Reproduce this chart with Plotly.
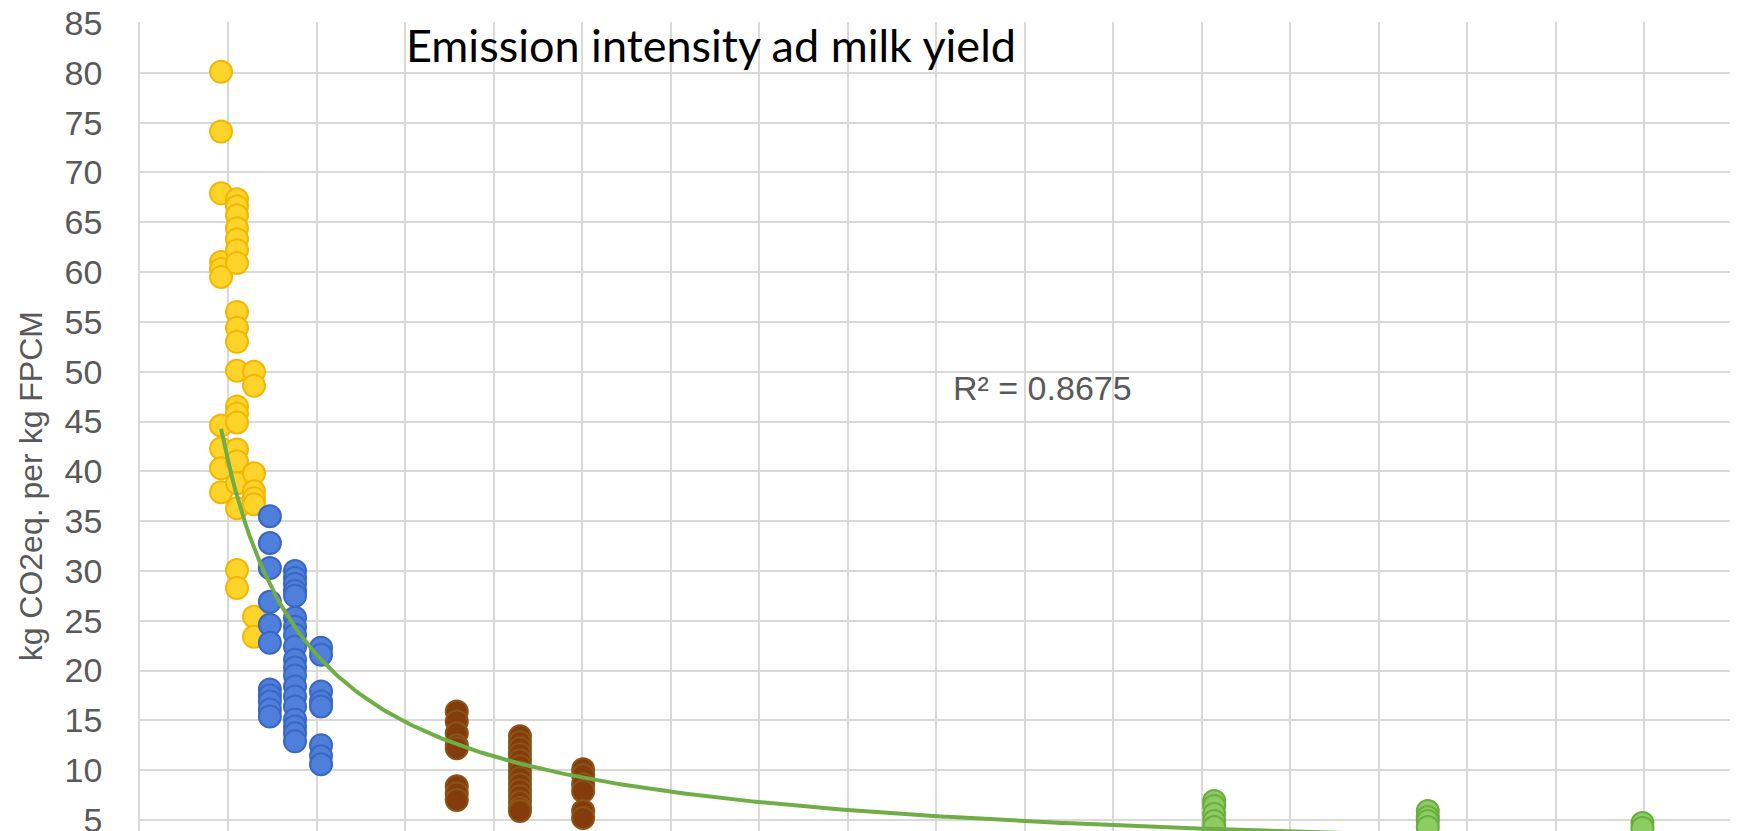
import numpy as np
import plotly.graph_objects as go

# milk yield of each group of farms (x) and emission intensity of each farm (y)
yellow_x = [458, 548, 644]
yellow_y = [
    [80.1, 74.1, 67.9, 61.0, 60.3, 59.5, 44.6, 42.3, 40.3, 37.9],
    [67.3, 66.6, 65.7, 64.4, 63.3, 62.2, 60.9, 56.0, 54.4, 53.0, 50.1,
     46.5, 45.8, 44.9, 42.2, 41.0, 38.8, 36.3, 30.1, 28.3],
    [50.0, 48.6, 39.8, 38.0, 37.3, 36.7, 25.4, 23.4],
]
blue_x = [734, 876, 1023]
blue_y = [
    [35.5, 32.8, 30.3, 26.9, 24.6, 22.8, 18.1, 17.5, 16.9, 16.1, 15.4],
    [30.0, 29.3, 28.7, 28.0, 27.5, 25.3, 24.4, 23.6, 22.4, 21.1, 20.3,
     19.5, 18.4, 17.4, 16.4, 15.1, 14.4, 13.7, 12.9],
    [22.3, 21.6, 17.9, 16.9, 16.4, 12.5, 11.4, 10.6],
]
brown_x = [1790, 2147, 2504]
brown_y = [
    [15.9, 14.9, 13.7, 12.5, 12.2, 8.4, 7.7, 7.0],
    [13.4, 12.8, 12.2, 11.6, 11.0, 10.4, 9.8, 9.2, 8.6, 8.0, 7.4, 6.8, 6.2, 5.9],
    [10.1, 9.5, 8.6, 7.9, 5.9, 5.2],
]
green_x = [6070, 7277, 8490]
green_y = [
    [6.9, 6.4, 5.6, 4.9, 4.3],
    [5.9, 5.3, 4.9, 4.3],
    [4.7, 4.2],
]

y_ticks = list(range(5, 90, 5))
r2_label = "R² = 0.8675"
title_text = "Emission intensity ad milk yield"
y_title = "kg CO2eq. per kg FPCM"


def flatten(xs, ys):
    px_, py_ = [], []
    for x, col in zip(xs, ys):
        px_ += [x] * len(col)
        py_ += col
    return px_, py_


groups = [
    (yellow_x, yellow_y, "#FFD42A", "#F2B705"),
    (blue_x, blue_y, "#4E7FDA", "#3A66C4"),
    (brown_x, brown_y, "#843C0C", "#8A5418"),
    (green_x, green_y, "#8DCC63", "#6AAE3E"),
]

fig = go.Figure()
all_x, all_y = [], []
for xs, ys, fill, edge in groups:
    gx, gy = flatten(xs, ys)
    all_x += gx
    all_y += gy
    fig.add_trace(go.Scatter(
        x=gx, y=gy, mode="markers",
        marker=dict(size=22, color=fill, line=dict(color=edge, width=2)),
        showlegend=False, hoverinfo="x+y"))

# power trendline (least squares in log-log, as Excel does)
b, ln_a = np.polyfit(np.log(all_x), np.log(all_y), 1)
tx = np.linspace(min(all_x), max(all_x), 400)
ty = np.exp(ln_a) * tx ** b
fig.add_trace(go.Scatter(x=tx, y=ty, mode="lines",
                         line=dict(color="#70AD47", width=4),
                         showlegend=False, hoverinfo="skip"))

grid = "#D9D9D9"
# page body has an 8px default margin, so the figure is 8px smaller than the window
fig.update_layout(
    width=1730, height=823,
    margin=dict(l=132, r=0, t=14, b=0, autoexpand=False),
    plot_bgcolor="white", paper_bgcolor="white",
    font=dict(family="Liberation Sans, Arial, sans-serif", color="#595959"),
    xaxis=dict(range=[0, 9030], tick0=0, dtick=500, showticklabels=False,
               showgrid=True, gridcolor=grid, gridwidth=1.5, zeroline=False,
               ticks="", automargin=False),
    yaxis=dict(range=[3.9, 85.1], tickvals=y_ticks, showgrid=True,
               gridcolor=grid, gridwidth=1.5, zeroline=False,
               showline=True, linecolor=grid, linewidth=1.5,
               tickfont=dict(size=34, color="#595959"), ticks="",
               ticklabelstandoff=29, ticklabeloverflow="allow",
               automargin=False),
)

fig.add_annotation(text=title_text, xref="paper", yref="paper",
                   x=0.3576, y=0.972, xanchor="center", yanchor="middle",
                   showarrow=False,
                   font=dict(family="Lato, Open Sans, sans-serif", size=45, color="black"))
fig.add_annotation(text=r2_label, xref="paper", yref="paper",
                   x=0.5645, y=0.547, xanchor="center", yanchor="middle",
                   showarrow=False, font=dict(size=34, color="#595959"))
fig.add_annotation(text=y_title, xref="paper", yref="paper",
                   x=0, xshift=-109, y=0.426, xanchor="center", yanchor="middle",
                   textangle=-90, showarrow=False,
                   font=dict(size=32, color="#595959"))

fig.write_html("out.html")
